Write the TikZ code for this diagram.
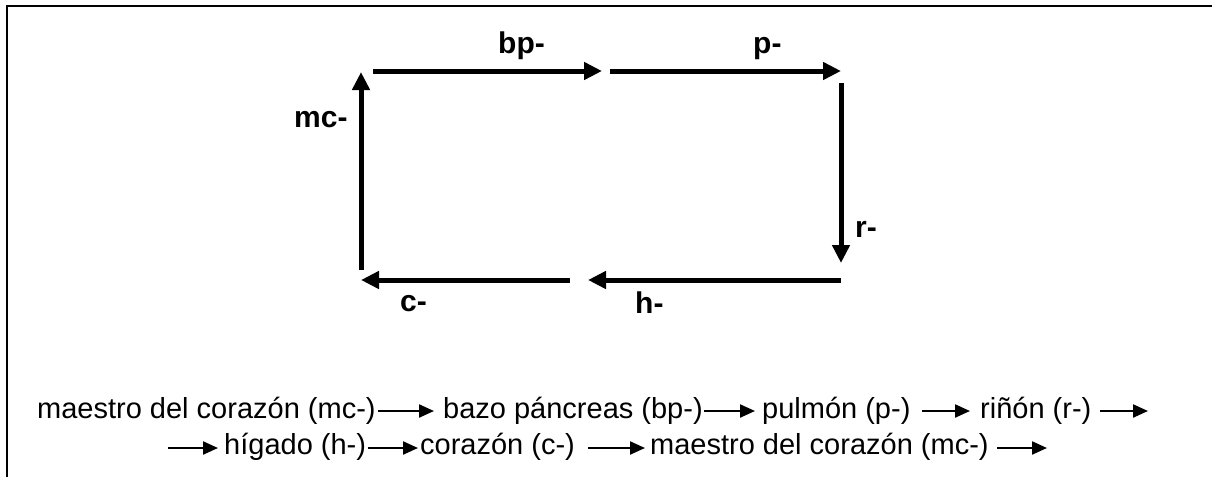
\documentclass[tikz,border=0pt]{standalone}
\usepackage{fontspec}
\setmainfont{Liberation Sans}
\usetikzlibrary{arrows.meta}
\begin{document}
\begin{tikzpicture}[x=1pt,y=-1pt,
  bigarrow/.style={line width=5pt,-{Triangle[length=18pt,width=17pt]}},
  txtarrow/.style={line width=2.2pt,-{Triangle[length=15pt,width=13pt]}},
  lbl/.style={font=\fontsize{30}{34}\selectfont\bfseries,inner sep=0pt,anchor=base west},
  txt/.style={font=\fontsize{29}{34}\selectfont,inner sep=0pt,anchor=base west},
  frameline/.style={line width=2.2pt}]
\useasboundingbox (0,0) rectangle (1212,477);
% frame (top and left only)
\coordinate (fa) at (7,477);
\coordinate (fb) at (7,6);
\coordinate (fc) at (1212,6);
\draw[frameline] (fa) -- (fb) -- (fc);
% cycle corners
\coordinate (mcS) at (361,270);
\coordinate (mcE) at (361,72);
\coordinate (bpS) at (373,71);
\coordinate (bpE) at (602,71);
\coordinate (pS) at (610,71);
\coordinate (pE) at (841,71);
\coordinate (rS) at (841,83);
\coordinate (rE) at (841,263);
\coordinate (hS) at (841,280);
\coordinate (hE) at (588,280);
\coordinate (cS) at (570,280);
\coordinate (cE) at (361,280);
\draw[bigarrow] (mcS) -- (mcE);
\draw[bigarrow] (bpS) -- (bpE);
\draw[bigarrow] (pS) -- (pE);
\draw[bigarrow] (rS) -- (rE);
\draw[bigarrow] (hS) -- (hE);
\draw[bigarrow] (cS) -- (cE);
\node[lbl] (lbp) at (498,53) {bp-};
\node[lbl] (lp) at (753,53) {p-};
\node[lbl] (lmc) at (294,127) {mc-};
\node[lbl] (lr) at (855,237) {r-};
\node[lbl] (lh) at (635,313) {h-};
\node[lbl] (lc) at (400,311) {c-};
% sequence text, line 1
\node[txt] (t1) at (37,418) {maestro del corazón (mc-)};
\node[txt] (t2) at (443,418) {bazo páncreas (bp-)};
\node[txt] (t3) at (762,418) {pulmón (p-)};
\node[txt] (t4) at (980,418) {riñón (r-)};
\coordinate (a1s) at (378,411); \coordinate (a1e) at (434,411);
\coordinate (a2s) at (704,411); \coordinate (a2e) at (755,411);
\coordinate (a3s) at (922,411); \coordinate (a3e) at (970,411);
\coordinate (a4s) at (1100,411); \coordinate (a4e) at (1148,411);
\draw[txtarrow] (a1s) -- (a1e);
\draw[txtarrow] (a2s) -- (a2e);
\draw[txtarrow] (a3s) -- (a3e);
\draw[txtarrow] (a4s) -- (a4e);
% line 2
\node[txt] (t5) at (224,454) {hígado (h-)};
\node[txt] (t6) at (420,454) {corazón (c-)};
\node[txt] (t7) at (650,454) {maestro del corazón (mc-)};
\coordinate (b1s) at (168,448); \coordinate (b1e) at (218,448);
\coordinate (b2s) at (368,448); \coordinate (b2e) at (418,448);
\coordinate (b3s) at (588,448); \coordinate (b3e) at (645,448);
\coordinate (b4s) at (997,448); \coordinate (b4e) at (1047,448);
\draw[txtarrow] (b1s) -- (b1e);
\draw[txtarrow] (b2s) -- (b2e);
\draw[txtarrow] (b3s) -- (b3e);
\draw[txtarrow] (b4s) -- (b4e);
\end{tikzpicture}
\end{document}
